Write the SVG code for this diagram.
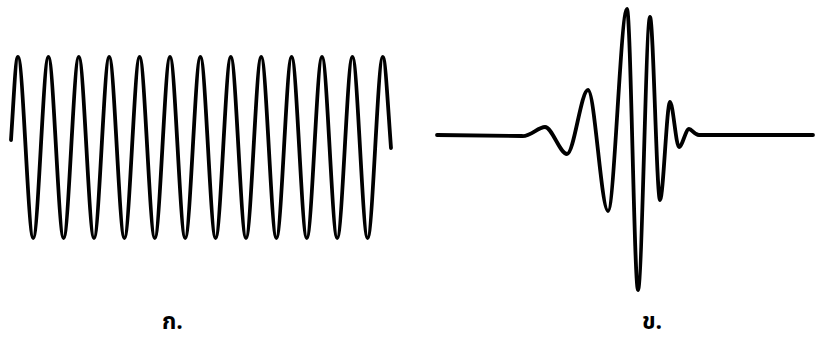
<svg xmlns="http://www.w3.org/2000/svg" width="815" height="340" viewBox="0 0 815 340">
  <style>
    .wave { fill: none; stroke: #000; stroke-width: 3.8; stroke-linejoin: round; stroke-linecap: round; }
    .lbl { font-family: "Noto Sans Thai", "Noto Sans", "DejaVu Sans", sans-serif; font-size: 23px; font-weight: bold; fill: #000; }
  </style>
  <rect x="0" y="0" width="815" height="340" fill="#fff"/>
  <g id="sine-wave">
    <path class="wave" d="M11,140 C14,95 15.5,57 18,57
      C23.07,57 28.13,238 33.2,238
      S43.33,57 48.4,57
      S58.53,238 63.6,238
      S73.73,57 78.8,57
      S88.93,238 94,238
      S104.13,57 109.2,57
      S119.33,238 124.4,238
      S134.53,57 139.6,57
      S149.73,238 154.8,238
      S164.93,57 170,57
      S180.13,238 185.2,238
      S195.33,57 200.4,57
      S210.53,238 215.6,238
      S225.73,57 230.8,57
      S240.93,238 246,238
      S256.13,57 261.2,57
      S271.33,238 276.4,238
      S286.53,57 291.6,57
      S301.73,238 306.8,238
      S316.93,57 322,57
      S332.13,238 337.2,238
      S347.33,57 352.4,57
      S362.53,238 367.6,238
      S377.73,57 382.8,57
      C385.3,57 387.5,100 391,148"/>
    <text class="lbl" x="162" y="329">ก.</text>
  </g>
  <g id="wavelet">
    <path class="wave" d="M437,135 L522,136
      C530,137 538,127 545,127
      C552,127 560,154 567,154
      C574,154 581,90 588,90
      C594.7,90 601.3,211 608,211
      C614.3,211 620.7,9 627,9
      C630.7,9 634.3,290 638,290
      C642,290 646,17 650,17
      C653.3,17 656.7,200 660,200
      C663.3,200 666.7,102 670,102
      C673,102 676,147 679,147
      C682.3,147 685.7,129 689,129
      C692,129 694,135 699,135
      L813,135"/>
    <text class="lbl" x="642" y="329">ข.</text>
  </g>
</svg>
